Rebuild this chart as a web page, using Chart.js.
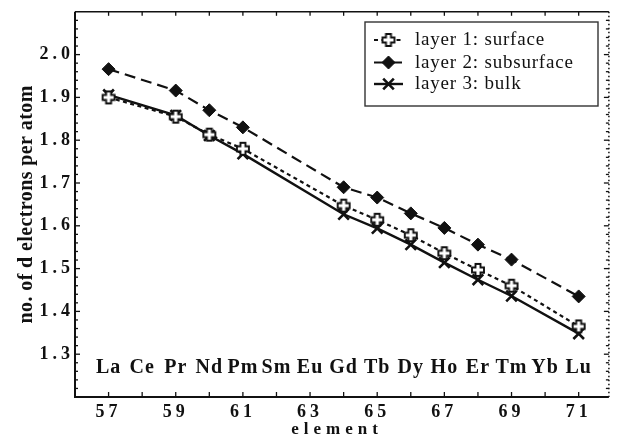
<!DOCTYPE html>
<html>
<head>
<meta charset="utf-8">
<script src="https://cdn.jsdelivr.net/npm/chart.js@4.4.0/dist/chart.umd.min.js"></script>
<style>
  html, body { margin: 0; padding: 0; background: #fff; }
</style>
</head>
<body>
<canvas id="c" width="619" height="446"></canvas>
<script>
// data
const atomicNumbers = [57, 59, 60, 61, 64, 65, 66, 67, 68, 69, 71];
const layer1Surface = [1.900, 1.855, 1.813, 1.780, 1.647, 1.614, 1.578, 1.536, 1.497, 1.460, 1.365];
const layer2Subsurface = [1.966, 1.916, 1.870, 1.830, 1.690, 1.666, 1.629, 1.595, 1.556, 1.521, 1.435];
const layer3Bulk = [1.906, 1.858, 1.811, 1.768, 1.627, 1.594, 1.556, 1.514, 1.474, 1.436, 1.348];

const elementSymbols = ['La', 'Ce', 'Pr', 'Nd', 'Pm', 'Sm', 'Eu', 'Gd', 'Tb', 'Dy', 'Ho', 'Er', 'Tm', 'Yb', 'Lu'];
const elementNumbers = [57, 58, 59, 60, 61, 62, 63, 64, 65, 66, 67, 68, 69, 70, 71];
const elementLabelLevel = 1.268;

const xTickLabels = [57, 59, 61, 63, 65, 67, 69, 71];
const yTickLabels = [1.3, 1.4, 1.5, 1.6, 1.7, 1.8, 1.9, 2.0];

const seriesNames = ['layer 1: surface', 'layer 2: subsurface', 'layer 3: bulk'];

const SERIF = '"Liberation Serif", "DejaVu Serif", serif';
const INK = '#111';

// open plus marker (white inside, black outline)
function makePlus() {
    const cv = document.createElement('canvas');
    cv.width = 16; cv.height = 16;
    const g = cv.getContext('2d');
    const c = 8, w = 2.5, l = 6;
    g.beginPath();
    g.moveTo(c - w, c - l); g.lineTo(c + w, c - l); g.lineTo(c + w, c - w);
    g.lineTo(c + l, c - w); g.lineTo(c + l, c + w); g.lineTo(c + w, c + w);
    g.lineTo(c + w, c + l); g.lineTo(c - w, c + l); g.lineTo(c - w, c + w);
    g.lineTo(c - l, c + w); g.lineTo(c - l, c - w); g.lineTo(c - w, c - w);
    g.closePath();
    g.fillStyle = '#fff'; g.fill();
    g.lineWidth = 1.9; g.strokeStyle = INK; g.stroke();
    return cv;
}
const plusMarker = makePlus();

const toPoints = ys => ys.map((v, i) => ({ x: atomicNumbers[i], y: v }));

const datasets = [
    {
        label: seriesNames[0], data: toPoints(layer1Surface),
        borderColor: INK, borderWidth: 2.2, borderDash: [4, 3.5],
        pointStyle: plusMarker, pointRadius: 7, order: 0
    },
    {
        label: seriesNames[1], data: toPoints(layer2Subsurface),
        borderColor: INK, borderWidth: 2.2, borderDash: [11, 6],
        pointStyle: 'rectRot', pointRadius: 6.5, pointBackgroundColor: INK, pointBorderColor: INK, pointBorderWidth: 1, order: 1
    },
    {
        label: seriesNames[2], data: toPoints(layer3Bulk),
        borderColor: INK, borderWidth: 2.4,
        pointStyle: 'crossRot', pointRadius: 7.5, pointBorderColor: INK, pointBorderWidth: 2.6, order: 2
    }
];

function drawMarker(ctx, ds, x, y) {
    if (ds.pointStyle === plusMarker) {
        ctx.drawImage(plusMarker, x - 8, y - 8);
        return;
    }
    ctx.lineWidth = ds.pointBorderWidth;
    Chart.helpers.drawPoint(ctx, {
        pointStyle: ds.pointStyle, radius: ds.pointRadius, rotation: 0,
        borderWidth: ds.pointBorderWidth
    }, x, y);
}

// frame, inward ticks, element symbols, axis titles and legend
const decorPlugin = {
    id: 'decor',
    beforeDraw(chart) {
        chart.ctx.letterSpacing = '4px';
    },
    afterDraw(chart) {
        const { ctx, chartArea: a, scales: { x, y } } = chart;
        ctx.save();
        ctx.letterSpacing = '0px';
        ctx.strokeStyle = INK;
        ctx.fillStyle = INK;

        const seg = (x1, y1, x2, y2) => { ctx.beginPath(); ctx.moveTo(x1, y1); ctx.lineTo(x2, y2); ctx.stroke(); };

        // box
        ctx.lineWidth = 2;
        seg(a.left, a.top, a.left, a.bottom + 1);
        seg(a.left - 1, a.bottom, a.right, a.bottom);
        ctx.lineWidth = 1.5;
        seg(a.left, a.top, a.right, a.top);
        ctx.setLineDash([1.5, 2.5]);
        seg(a.right, a.top, a.right, a.bottom);
        ctx.setLineDash([]);

        // y ticks, inside on both sides
        ctx.lineWidth = 1.3;
        for (let k = 60; k <= 105; k++) {
            const v = k / 50;
            if (v <= y.min || v >= y.max) continue;
            const py = y.getPixelForValue(v);
            const len = (k % 5 === 0) ? 5 : 3;
            seg(a.left, py, a.left + len, py);
            seg(a.right, py, a.right - len, py);
        }
        // x ticks, inside on top and bottom
        for (let n = 57; n <= 71; n++) {
            const px = x.getPixelForValue(n);
            seg(px, a.bottom, px, a.bottom - 5);
            seg(px, a.top, px, a.top + 4);
        }

        // element symbols
        ctx.font = 'bold 20px ' + SERIF;
        ctx.letterSpacing = '1px';
        ctx.textAlign = 'center';
        ctx.textBaseline = 'middle';
        const ly = y.getPixelForValue(elementLabelLevel);
        elementSymbols.forEach((s, i) => {
            ctx.fillText(s, x.getPixelForValue(elementNumbers[i]), ly);
        });

        // x title
        ctx.font = 'bold 17px ' + SERIF;
        ctx.letterSpacing = '5px';
        ctx.fillText('element', 337, 430);

        // y title
        ctx.save();
        ctx.translate(27, (a.top + a.bottom) / 2);
        ctx.rotate(-Math.PI / 2);
        ctx.font = 'bold 20px ' + SERIF;
        ctx.letterSpacing = '0.4px';
        ctx.fillText('no. of d electrons per atom', 0, 0);
        ctx.restore();

        // legend
        const bx = 365, by = 22, bw = 233, bh = 84;
        ctx.lineWidth = 1.4;
        ctx.strokeStyle = '#333';
        ctx.fillStyle = '#fff';
        ctx.fillRect(bx, by, bw, bh);
        ctx.strokeRect(bx, by, bw, bh);
        ctx.strokeStyle = INK;
        const rows = [40, 62.5, 84];
        chart.data.datasets.forEach((ds, i) => {
            const ry = rows[i];
            ctx.lineWidth = ds.borderWidth;
            ctx.setLineDash(ds.borderDash || []);
            seg(374, ry, 403, ry);
            ctx.setLineDash([]);
            ctx.fillStyle = INK;
            drawMarker(ctx, ds, 388.5, ry);
            ctx.fillStyle = INK;
            ctx.font = '19px ' + SERIF;
            ctx.letterSpacing = '0.8px';
            ctx.textAlign = 'left';
            ctx.textBaseline = 'middle';
            ctx.fillText(ds.label, 415, ry + 0.5);
        });
        ctx.restore();
    }
};

new Chart(document.getElementById('c'), {
    type: 'line',
    data: { datasets },
    options: {
        responsive: false,
        animation: false,
        devicePixelRatio: 1,
        layout: { padding: { top: 4, right: 3, left: 0, bottom: 0 } },
        plugins: { legend: { display: false }, tooltip: { enabled: false } },
        elements: { line: { tension: 0, fill: false } },
        scales: {
            x: {
                type: 'linear', min: 56, max: 71.9,
                afterBuildTicks: s => { s.ticks = xTickLabels.map(v => ({ value: v })); },
                afterFit: s => { s.height = 49; },
                grid: { display: false, drawTicks: false },
                border: { display: false },
                ticks: {
                    color: INK, padding: 5, maxRotation: 0, autoSkip: false,
                    font: { family: SERIF, size: 18, weight: 'bold' },
                    callback: v => String(v)
                }
            },
            y: {
                type: 'linear', min: 1.2, max: 2.1,
                afterBuildTicks: s => { s.ticks = yTickLabels.map(v => ({ value: v })); },
                afterFit: s => { s.width = 75; },
                grid: { display: false, drawTicks: false },
                border: { display: false },
                ticks: {
                    color: INK, padding: 1, autoSkip: false,
                    font: { family: SERIF, size: 18, weight: 'bold' },
                    callback: v => v.toFixed(1)
                }
            }
        }
    },
    plugins: [decorPlugin]
});
</script>
</body>
</html>
